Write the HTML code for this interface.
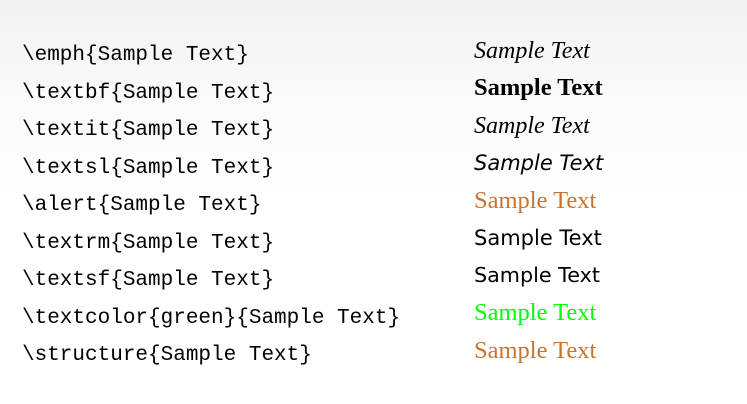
<!DOCTYPE html>
<html><head><style>
html,body{margin:0;padding:0}
body{width:747px;height:404px;position:relative;overflow:hidden;background:linear-gradient(#f2f2f2 0px,#fafafa 100px,#fff 200px,#fff 404px)}
.l,.r{position:absolute;white-space:nowrap;line-height:22px}
.l{left:22px;font-family:"Liberation Mono",monospace;font-size:21px;color:#000}
.r{left:474px;font-family:"Liberation Serif",serif;font-size:24px;color:#000}
.s{font-family:"DejaVu Sans","Liberation Sans",sans-serif;font-size:21px}
</style></head><body>
<div class="l" style="top:45px">\emph{Sample Text}</div>
<div class="l" style="top:82.5px">\textbf{Sample Text}</div>
<div class="l" style="top:120px">\textit{Sample Text}</div>
<div class="l" style="top:157.5px">\textsl{Sample Text}</div>
<div class="l" style="top:195px">\alert{Sample Text}</div>
<div class="l" style="top:232.5px">\textrm{Sample Text}</div>
<div class="l" style="top:270px">\textsf{Sample Text}</div>
<div class="l" style="top:307.5px">\textcolor{green}{Sample Text}</div>
<div class="l" style="top:345px">\structure{Sample Text}</div>

<div class="r" style="top:39.5px;font-style:italic">Sample Text</div>
<div class="r" style="top:77px;font-weight:bold;font-size:24.5px">Sample Text</div>
<div class="r" style="top:114.5px;font-style:italic">Sample Text</div>
<div class="r s" style="top:151.5px;font-style:oblique;font-size:21px">Sample Text</div>
<div class="r" style="top:189.5px;color:#c8742f;font-size:24.5px">Sample Text</div>
<div class="r s" style="top:226.5px">Sample Text</div>
<div class="r s" style="top:264px;font-size:20.7px">Sample Text</div>
<div class="r" style="top:302px;color:#00ff00;font-size:24.5px">Sample Text</div>
<div class="r" style="top:339.5px;color:#c8742f;font-size:24.5px">Sample Text</div>
</body></html>
